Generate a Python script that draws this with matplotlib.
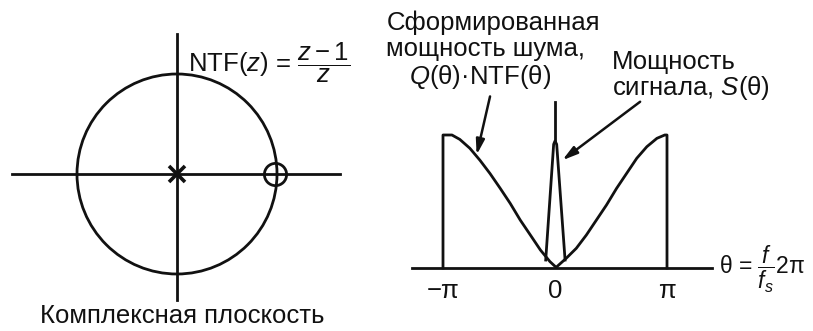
"""
Pole-zero plot of NTF(z) = (z-1)/z and the shaped noise / signal spectra
"""

import numpy as np
import matplotlib
matplotlib.use('Agg')
import matplotlib.pyplot as plt
from matplotlib.patches import Circle

plt.rcParams['font.family'] = ['Liberation Sans', 'DejaVu Sans']
plt.rcParams['mathtext.fontset'] = 'custom'
plt.rcParams['mathtext.rm'] = 'Liberation Sans'
plt.rcParams['mathtext.it'] = 'Liberation Sans:italic'
plt.rcParams['mathtext.bf'] = 'Liberation Sans:bold'

#=================================================================
# Data

# z-plane: pole at origin, zero on the unit circle at z = 1
pole_re = [0.0]
pole_im = [0.0]
zero_re = [0.98]
zero_im = [0.0]

# shaped noise Q(theta)*NTF(theta), theta in units of pi, peak ~ 1
noise_theta = [-1.0, -1.0, -0.92, -0.85, -0.76, -0.67, -0.58, -0.49, -0.40, -0.31,
               -0.22, -0.13, -0.045, 0.01,
               0.10, 0.19, 0.28, 0.37, 0.46, 0.55, 0.64, 0.73, 0.82, 0.91, 0.98, 1.0, 1.0]
noise_level = [0.0, 1.0, 1.0, 0.967, 0.90, 0.81, 0.71, 0.60, 0.486, 0.36,
               0.248, 0.135, 0.048, 0.005,
               0.073, 0.148, 0.248, 0.361, 0.474, 0.599, 0.712, 0.825, 0.912, 0.975, 1.0, 1.0, 0.0]

# signal spectrum S(theta): narrow spike at dc
signal_theta = [-0.083, -0.012, 0.0, 0.015, 0.09]
signal_level = [0.06, 0.93, 0.955, 0.93, 0.06]
spike_top = 1.25

tick_pos = [-1.0, 0.0, 1.0]
tick_lab = ['\u2212\u03c0', '0', '\u03c0']

ink = '#111111'
lw = 2.0
fs = 18.5

#=================================================================

W, H, mydpi = 813, 331, 100
fig = plt.figure(figsize=(W/mydpi, H/mydpi), dpi=mydpi)

# left panel: 100 px per unit, origin at pixel (177,174)
axL = fig.add_axes([0, 0, 400/W, 1])
axL.set_xlim((0-177)/100, (400-177)/100)
axL.set_ylim((174-331)/100, 174/100)
axL.axis('off')

axL.add_patch(Circle((0, 0), 1.0, fill=False, color=ink, lw=lw))
axL.plot([-1.65, 1.63], [0, 0], color=ink, lw=lw)
axL.plot([0, 0], [-1.26, 1.40], color=ink, lw=lw)
axL.plot(pole_re, pole_im, 'x', color=ink, ms=11, mew=2.6)
axL.plot(zero_re, zero_im, 'o', mfc='none', mec=ink, ms=16, mew=2.0)

axL.text(0.92, 1.11, r'NTF($z$) = $\dfrac{z-1}{z}$', fontsize=fs,
         ha='center', va='center', color=ink)
axL.text(0.05, -1.42, 'Комплексная плоскость', fontsize=fs,
         ha='center', va='center', color=ink)

# right panel: 112 px per pi, 133 px per unit height, origin at pixel (555,268)
axR = fig.add_axes([400/W, 0, 413/W, 1])
axR.set_xlim((400-555)/112, (813-555)/112)
axR.set_ylim((268-331)/133, 268/133)
axR.axis('off')

axR.plot([-1.277, 1.402], [0, 0], color=ink, lw=lw)
axR.plot(noise_theta, noise_level, color=ink, lw=lw, solid_joinstyle='round')
axR.plot(signal_theta, signal_level, color=ink, lw=lw, solid_joinstyle='round')
axR.plot([0, 0], [signal_level[2], spike_top], color=ink, lw=lw)

for p, l in zip(tick_pos, tick_lab):
    axR.text(p, (268-291)/133, l, fontsize=fs, ha='center', va='center', color=ink)

axR.text((719-555)/112, -0.01, r'$\mathrm{\theta}$ = $\dfrac{f}{f_s}$2$\mathrm{\pi}$',
         fontsize=16.5, ha='left', va='center', color=ink)

arrow = dict(arrowstyle='-|>,head_length=0.9,head_width=0.25', color=ink, lw=1.8,
             shrinkA=0, shrinkB=0)
axR.annotate('', xy=(-0.70, 0.85), xytext=(-0.58, 1.29), arrowprops=arrow)
axR.annotate('', xy=(0.065, 0.81), xytext=(0.76, 1.25), arrowprops=arrow)

axR.text((493-555)/112, (268-23)/133, 'Сформированная', fontsize=fs,
         ha='center', va='center', color=ink)
axR.text((486-555)/112, (268-49)/133, 'мощность шума,', fontsize=fs,
         ha='center', va='center', color=ink)
axR.text((480-555)/112, (268-77)/133, '$Q$(\u03b8)\u00b7NTF(\u03b8)', fontsize=fs,
         ha='center', va='center', color=ink)
axR.text((612-555)/112, (268-62)/133, 'Мощность', fontsize=fs,
         ha='left', va='center', color=ink)
axR.text((612-555)/112, (268-88)/133, 'сигнала, $S$(\u03b8)', fontsize=fs,
         ha='left', va='center', color=ink)

plt.savefig('out.png', dpi=mydpi)
